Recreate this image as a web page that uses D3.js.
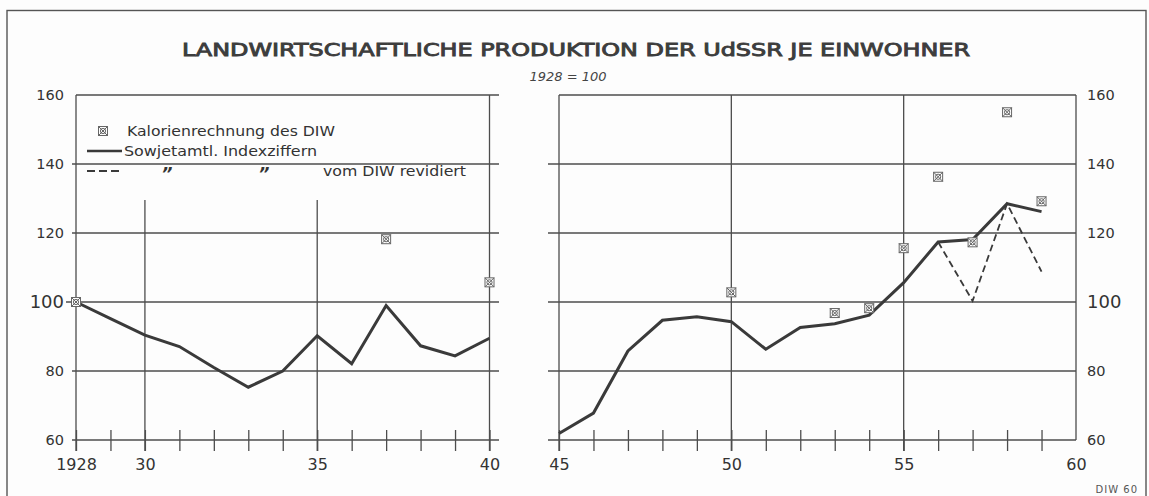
<!DOCTYPE html>
<html>
<head>
<meta charset="utf-8">
<script src="https://cdn.jsdelivr.net/npm/d3@7"></script>
<style>
  html, body { margin: 0; padding: 0; background: #fdfdfd; }
  svg { display: block; }
  text { font-family: "DejaVu Sans", "Liberation Sans", sans-serif; fill: #333; }
</style>
</head>
<body>
<svg id="chart" width="1149" height="496"></svg>
<script>
// ---------- DATA ----------
const titleText = "LANDWIRTSCHAFTLICHE PRODUKTION DER UdSSR JE EINWOHNER";
const subtitleText = "1928 = 100";
const sourceText = "DIW 60";

const yTicks = [60, 80, 100, 120, 140, 160];

const leftYears = [1928, 1929, 1930, 1931, 1932, 1933, 1934, 1935, 1936, 1937, 1938, 1939, 1940];
const leftIndex = [100, 95.2, 90.4, 87.1, 81, 75.3, 80, 90.2, 82.1, 99, 87.3, 84.4, 89.5];
const leftMajor = [1928, 1930, 1935, 1940];
const leftLabels = ["1928", "30", "35", "40"];

const rightYears = [1945, 1946, 1947, 1948, 1949, 1950, 1951, 1952, 1953, 1954, 1955, 1956, 1957, 1958, 1959, 1960];
const rightIndex = [61.9, 67.8, 85.8, 94.7, 95.7, 94.3, 86.3, 92.6, 93.7, 96.2, 105.6, 117.4, 118.1, 128.5, 126.2];
const rightMajor = [1945, 1950, 1955, 1960];
const rightLabels = ["45", "50", "55", "60"];

const revisedYears = [1956, 1957, 1958, 1959];
const revisedIndex = [117.4, 100.3, 128.5, 108.8];

const caloriesLeftYears = [1928, 1937, 1940];
const caloriesLeft = [100, 118.2, 105.7];
const caloriesRightYears = [1950, 1953, 1954, 1955, 1956, 1957, 1958, 1959];
const caloriesRight = [102.8, 96.8, 98.2, 115.6, 136.3, 117.3, 155.0, 129.2];

const legendLabels = ["Kalorienrechnung des DIW", "Sowjetamtl. Indexziffern", "vom DIW revidiert"];

// ---------- SETUP ----------
const svg = d3.select("#chart");
const ink = "#3a3a3a";
const gridInk = "#4d4d4d";

const y = d3.scaleLinear().domain([60, 160]).range([440, 95]);
const xL = d3.scaleLinear().domain([1928, 1940]).range([76, 489.5]);
const xR = d3.scaleLinear().domain([1945, 1960]).range([559, 1076]);

// outer frame
svg.append("rect").attr("x", 7).attr("y", 10.5).attr("width", 1139).attr("height", 500)
  .attr("fill", "none").attr("stroke", "#555").attr("stroke-width", 1.4);

// title
svg.append("text").attr("x", 182).attr("y", 55.5)
  .attr("textLength", 788).attr("lengthAdjust", "spacingAndGlyphs")
  .style("font-size", "18px").style("font-weight", "normal").style("fill", "#3d3d3d")
  .style("stroke", "#3d3d3d").style("stroke-width", "0.9px")
  .text(titleText);
svg.append("text").attr("x", 568).attr("y", 81).attr("text-anchor", "middle")
  .style("font-size", "13px").style("font-style", "italic").style("fill", "#444")
  .text(subtitleText);

// ---------- GRID ----------
const grid = svg.append("g").attr("stroke", gridInk).attr("stroke-width", 1.3).attr("fill", "none");

yTicks.forEach(v => {
  const yy = y(v);
  const lx0 = v === 160 ? xL(1928) : (v === 100 ? 66 : 72);
  grid.append("line").attr("x1", lx0).attr("x2", 499).attr("y1", yy).attr("y2", yy);
  const rx0 = v === 160 ? xR(1945) : 548;
  grid.append("line").attr("x1", rx0).attr("x2", xR(1960)).attr("y1", yy).attr("y2", yy);
});

leftMajor.forEach(yr => {
  const top = (yr === 1928 || yr === 1940) ? y(160) : 200;
  grid.append("line").attr("x1", xL(yr)).attr("x2", xL(yr)).attr("y1", top).attr("y2", 451);
});
rightMajor.forEach(yr => {
  const bottom = yr === 1960 ? y(60) : 451;
  grid.append("line").attr("x1", xR(yr)).attr("x2", xR(yr)).attr("y1", y(160)).attr("y2", bottom);
});

// ---------- AXES ----------
function styleAxis(g, fontSize) {
  g.select(".domain").remove();
  g.selectAll(".tick line").attr("stroke", gridInk).attr("stroke-width", 1.3);
  g.selectAll(".tick text").style("font-family", "DejaVu Sans, sans-serif")
    .style("font-size", fontSize).attr("fill", "#333");
}

const axL = d3.axisBottom(xL).tickValues(leftYears)
  .tickSize(21).tickPadding(8)
  .tickFormat(d => { const i = leftMajor.indexOf(d); return i >= 0 ? leftLabels[i] : ""; });
const gxL = svg.append("g").attr("transform", "translate(0,430)").call(axL);
styleAxis(gxL, "16px");

const axR = d3.axisBottom(xR).tickValues(rightYears)
  .tickSize(21).tickPadding(8)
  .tickFormat(d => { const i = rightMajor.indexOf(d); return i >= 0 ? rightLabels[i] : ""; });
const gxR = svg.append("g").attr("transform", "translate(0,430)").call(axR);
styleAxis(gxR, "16px");
gxR.selectAll(".tick").filter(d => d === 1960).select("line").remove();

const ayL = d3.axisLeft(y).tickValues(yTicks).tickSize(0).tickPadding(0).tickFormat(d3.format("d"));
const gyL = svg.append("g").attr("transform", "translate(64,0)").call(ayL);
styleAxis(gyL, "14.5px");
gyL.selectAll(".tick text").filter(d => d === 100).style("font-size", "18px").attr("fill", "#2a2a2a");

const ayR = d3.axisRight(y).tickValues(yTicks).tickSize(0).tickPadding(0).tickFormat(d3.format("d"));
const gyR = svg.append("g").attr("transform", "translate(1087,0)").call(ayR);
styleAxis(gyR, "14.5px");
gyR.selectAll(".tick text").filter(d => d === 100).style("font-size", "18px").attr("fill", "#2a2a2a");

// ---------- LINES ----------
const lineL = d3.line().x((d, i) => xL(leftYears[i])).y(d => y(d));
svg.append("path").datum(leftIndex).attr("d", lineL)
  .attr("fill", "none").attr("stroke", ink).attr("stroke-width", 3).attr("stroke-linejoin", "miter");

const lineR = d3.line().x((d, i) => xR(rightYears[i])).y(d => y(d));
svg.append("path").datum(rightIndex).attr("d", lineR)
  .attr("fill", "none").attr("stroke", ink).attr("stroke-width", 3).attr("stroke-linejoin", "miter");

const lineRev = d3.line().x((d, i) => xR(revisedYears[i])).y(d => y(d));
svg.append("path").datum(revisedIndex).attr("d", lineRev)
  .attr("fill", "none").attr("stroke", ink).attr("stroke-width", 1.8).attr("stroke-dasharray", "7,4");

// ---------- MARKERS ----------
function marker(g, cx, cy) {
  const s = 4.5;
  const m = g.append("g").attr("transform", `translate(${cx},${cy})`)
    .attr("stroke", "#666").attr("stroke-width", 1).attr("fill", "none");
  m.append("rect").attr("x", -s).attr("y", -s).attr("width", 2 * s).attr("height", 2 * s).attr("fill", "#fdfdfd");
  m.append("circle").attr("r", 2.6);
  m.append("line").attr("x1", -s).attr("y1", -s).attr("x2", s).attr("y2", s);
  m.append("line").attr("x1", -s).attr("y1", s).attr("x2", s).attr("y2", -s);
}
const mk = svg.append("g");
caloriesLeft.forEach((v, i) => marker(mk, xL(caloriesLeftYears[i]), y(v)));
caloriesRight.forEach((v, i) => marker(mk, xR(caloriesRightYears[i]), y(v)));

// ---------- LEGEND ----------
const lg = svg.append("g");
marker(lg, 103, 131);
lg.append("text").attr("x", 127).attr("y", 136).attr("textLength", 208).attr("lengthAdjust", "spacingAndGlyphs")
  .style("font-size", "14px").text(legendLabels[0]);
lg.append("line").attr("x1", 87).attr("x2", 122).attr("y1", 151).attr("y2", 151)
  .attr("stroke", ink).attr("stroke-width", 2.6);
lg.append("text").attr("x", 124).attr("y", 156).attr("textLength", 193).attr("lengthAdjust", "spacingAndGlyphs")
  .style("font-size", "14px").text(legendLabels[1]);
lg.append("line").attr("x1", 87).attr("x2", 122).attr("y1", 171).attr("y2", 171)
  .attr("stroke", ink).attr("stroke-width", 2).attr("stroke-dasharray", "8,4");
lg.append("text").attr("x", 167).attr("y", 180).attr("text-anchor", "middle")
  .style("font-size", "17px").style("font-style", "italic").style("font-weight", "bold").text("\u201D");
lg.append("text").attr("x", 264).attr("y", 180).attr("text-anchor", "middle")
  .style("font-size", "17px").style("font-style", "italic").style("font-weight", "bold").text("\u201D");
lg.append("text").attr("x", 323).attr("y", 176).attr("textLength", 143).attr("lengthAdjust", "spacingAndGlyphs")
  .style("font-size", "14px").text(legendLabels[2]);

// source
svg.append("text").attr("x", 1138).attr("y", 493).attr("text-anchor", "end")
  .style("font-size", "10px").style("letter-spacing", "1px").style("fill", "#555").text(sourceText);
</script>
</body>
</html>
